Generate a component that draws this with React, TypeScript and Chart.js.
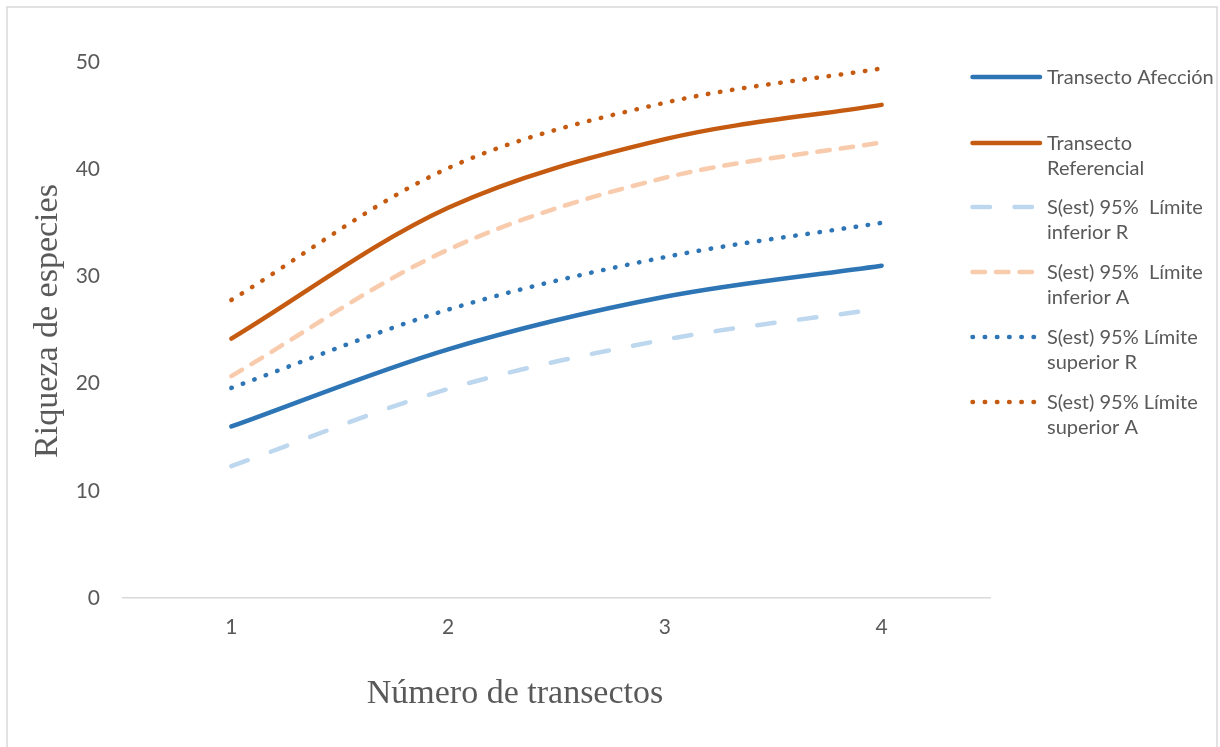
import { useEffect, useRef } from "react";
import { Chart, registerables } from "chart.js";

Chart.register(...registerables);

// ---- data ----
const categories = ["1", "2", "3", "4"];
const transectoAfeccion = [16.0, 23.2, 28.1, 31.0];
const transectoReferencial = [24.2, 36.4, 42.8, 46.0];
const limiteInferiorR = [12.3, 19.5, 24.1, 27.0];
const limiteInferiorA = [20.7, 32.5, 39.2, 42.5];
const limiteSuperiorR = [19.6, 26.9, 31.8, 35.0];
const limiteSuperiorA = [27.8, 40.1, 46.2, 49.4];
const yMin = 0;
const yMax = 50;
const yStep = 10;

const xTitle = "Número de transectos";
const yTitle = "Riqueza de especies";

// ---- styles ----
const BLUE = "#2E75B6";
const ORANGE = "#C55A11";
const LBLUE = "#BDD7EE";
const LORANGE = "#F8CBAD";
const TEXT = "#595959";
const SANS = "Lato, 'Open Sans', sans-serif";
const SERIF = "'Liberation Serif', 'DejaVu Serif', serif";
const LW = 4.5;

const seriesDefs = [
  { label: ["Transecto Afección"], data: transectoAfeccion, color: BLUE, dash: [] as number[] },
  { label: ["Transecto", "Referencial"], data: transectoReferencial, color: ORANGE, dash: [] as number[] },
  { label: ["S(est) 95%  Límite", "inferior R"], data: limiteInferiorR, color: LBLUE, dash: [17.5, 24.5] },
  { label: ["S(est) 95%  Límite", "inferior A"], data: limiteInferiorA, color: LORANGE, dash: [12.5, 11] },
  { label: ["S(est) 95% Límite", "superior R"], data: limiteSuperiorR, color: BLUE, dash: [0.5, 11.7] },
  { label: ["S(est) 95% Límite", "superior A"], data: limiteSuperiorA, color: ORANGE, dash: [0.5, 11.7] },
];

const legendRowY = [77, 143, 207, 272, 337, 402];

const decorPlugin = {
  id: "decor",
  afterDraw(chart: any) {
    const ctx = chart.ctx as CanvasRenderingContext2D;
    ctx.save();
    // outer border
    ctx.strokeStyle = "#D9D9D9";
    ctx.lineWidth = 1.5;
    ctx.setLineDash([]);
    ctx.strokeRect(7, 7, 1210, 800);

    // axis titles
    ctx.fillStyle = TEXT;
    ctx.font = `34px ${SERIF}`;
    ctx.textAlign = "center";
    ctx.textBaseline = "alphabetic";
    ctx.fillText(xTitle, 515, 703);
    ctx.save();
    ctx.translate(57, 321);
    ctx.rotate(-Math.PI / 2);
    ctx.fillText(yTitle, 0, 0);
    ctx.restore();

    // legend
    ctx.font = `20px ${SANS}`;
    ctx.textAlign = "left";
    seriesDefs.forEach((s, i) => {
      const y = legendRowY[i];
      ctx.beginPath();
      ctx.strokeStyle = s.color;
      ctx.lineWidth = LW;
      ctx.lineCap = "round";
      ctx.setLineDash(s.dash);
      ctx.moveTo(972.5, y);
      ctx.lineTo(1040, y);
      ctx.stroke();
      ctx.setLineDash([]);
      ctx.fillStyle = TEXT;
      s.label.forEach((line, j) => {
        ctx.fillText(line, 1047, y + 7 + j * 25);
      });
    });
    ctx.restore();
  },
};

export default function App() {
  const canvasRef = useRef<HTMLCanvasElement | null>(null);

  useEffect(() => {
    if (!canvasRef.current) return;
    const chart = new Chart(canvasRef.current, {
      type: "line",
      data: {
        labels: categories,
        datasets: seriesDefs.map((s) => ({
          label: s.label.join(" "),
          data: s.data,
          borderColor: s.color,
          backgroundColor: s.color,
          borderWidth: LW,
          borderDash: s.dash,
          borderCapStyle: "round" as const,
          borderJoinStyle: "round" as const,
          pointRadius: 0,
          pointHoverRadius: 0,
          tension: 0.33,
          fill: false,
        })),
      },
      options: {
        animation: false,
        responsive: false,
        devicePixelRatio: 1,
        layout: { padding: { left: 0, right: 230, top: 62, bottom: 0 } },
        plugins: {
          legend: { display: false },
          tooltip: { enabled: false },
          title: { display: false },
        },
        scales: {
          x: {
            type: "category",
            offset: true,
            grid: { display: false, drawTicks: false },
            border: { display: true, color: "#D9D9D9", width: 1.5 },
            ticks: { color: TEXT, font: { family: SANS, size: 21 }, padding: 17 },
            afterFit: (scale: any) => {
              scale.height = 149;
            },
          },
          y: {
            min: yMin,
            max: yMax,
            grid: { display: false, drawTicks: false },
            border: { display: false },
            ticks: {
              stepSize: yStep,
              color: TEXT,
              font: { family: SANS, size: 21 },
              padding: 23,
            },
            afterFit: (scale: any) => {
              scale.width = 123;
            },
          },
        },
      },
      plugins: [decorPlugin],
    });
    return () => chart.destroy();
  }, []);

  return (
    <div style={{ position: "absolute", left: 0, top: 0, width: 1220, height: 747, background: "#fff" }}>
      <canvas ref={canvasRef} width={1220} height={747} style={{ display: "block", width: 1220, height: 747 }} />
    </div>
  );
}
